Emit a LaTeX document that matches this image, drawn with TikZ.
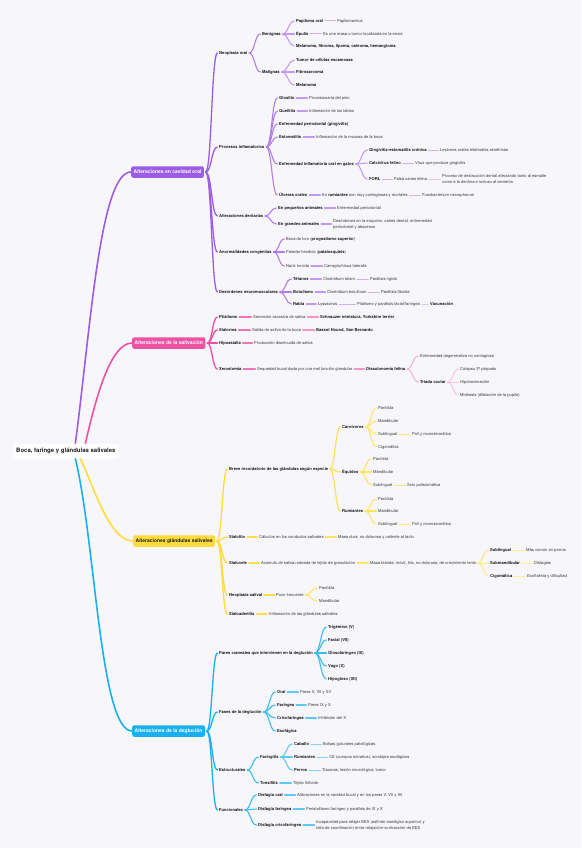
\documentclass[tikz,border=0pt]{standalone}
\usepackage{fontspec}
\setmainfont{TeX Gyre Heros}
\usetikzlibrary{calc}
\definecolor{bg}{HTML}{F7F7FB}
\definecolor{P}{HTML}{9C5CE6}
\definecolor{K}{HTML}{EE52A4}
\definecolor{Y}{HTML}{FFDC3C}
\definecolor{B}{HTML}{1AB0F0}
\definecolor{tx}{HTML}{1C1C1C}
\definecolor{tl}{HTML}{3A3A3A}
\tikzset{
 root/.style={anchor=west, fill=white, rounded corners=3pt, inner xsep=3pt, inner ysep=0pt, minimum height=15pt, font=\fontsize{6}{7}\selectfont\bfseries, text=tx},
 box/.style={anchor=west, rounded corners=2pt, inner xsep=2.5pt, inner ysep=0pt, minimum height=11.5pt, font=\fontsize{5}{6}\selectfont\bfseries},
 lb/.style={anchor=west, inner xsep=0pt, inner ysep=1pt, font=\fontsize{4.1}{5}\selectfont\bfseries, text=tx},
 lt/.style={anchor=west, inner xsep=0pt, inner ysep=1pt, font=\fontsize{4.1}{5}\selectfont, text=tl},
 lt2/.style={anchor=west, inner xsep=0pt, inner ysep=1pt, align=left, font=\fontsize{4.1}{6}\selectfont, text=tl},
 br/.style={to path={let \p1=(\tikztostart),\p2=(\tikztotarget),\n1={0.5*\x1+0.5*\x2} in .. controls (\n1,\y1) and (\n1,\y2) .. (\p2)}},
 ed/.style={line cap=round, shorten <=1.6pt, shorten >=1.6pt},
 P1/.style={line cap=round, line width=1.6pt, draw=P},
 P2/.style={ed, line width=1.3pt, draw=P},
 P3/.style={ed, line width=1.1pt, draw=P!80!white},
 P4/.style={ed, line width=1.05pt, draw=P!62!white},
 P5/.style={ed, line width=1pt, draw=P!48!white},
 P6/.style={ed, line width=1pt, draw=P!35!white},
 K1/.style={line cap=round, line width=1.6pt, draw=K},
 K2/.style={ed, line width=1.3pt, draw=K},
 K3/.style={ed, line width=1.1pt, draw=K!80!white},
 K4/.style={ed, line width=1.05pt, draw=K!62!white},
 K5/.style={ed, line width=1pt, draw=K!48!white},
 K6/.style={ed, line width=1pt, draw=K!35!white},
 Y1/.style={line cap=round, line width=1.6pt, draw=Y},
 Y2/.style={ed, line width=1.3pt, draw=Y},
 Y3/.style={ed, line width=1.1pt, draw=Y!90!white},
 Y4/.style={ed, line width=1.05pt, draw=Y!80!white},
 Y5/.style={ed, line width=1pt, draw=Y!68!white},
 Y6/.style={ed, line width=1pt, draw=Y!55!white},
 B1/.style={line cap=round, line width=1.6pt, draw=B},
 B2/.style={ed, line width=1.3pt, draw=B},
 B3/.style={ed, line width=1.1pt, draw=B!85!white},
 B4/.style={ed, line width=1.05pt, draw=B!70!white},
 B5/.style={ed, line width=1pt, draw=B!55!white},
}
\begin{document}
\begin{tikzpicture}[x=1pt,y=-1pt]
\fill[bg] (0,0) rectangle (581,848);
\useasboundingbox (0,0) rectangle (581,848);

% ---------- root and main boxes
\node[root] (root) at (13,451) {Boca, faringe y glándulas salivales};
\node[box, fill=P, text=white] (po) at (131,172) {Alteraciones en cavidad oral};
\node[box, fill=K, text=white] (ps) at (132,343) {Alteraciones de la salivación};
\node[box, fill=Y, text=tx] (ys) at (133,541) {Alteraciones glándulas salivales};
\node[box, fill=B, text=white] (bs) at (132,731) {Alteraciones de la deglución};

\draw[P1] ([xshift=9.5pt]root.north) .. controls +(15,-113) and +(-31,0) .. (po.west);
\draw[K1] ([xshift=19.5pt]root.north) .. controls +(10,-43) and +(-22,0) .. (ps.west);
\draw[Y1] ([xshift=14.5pt]root.south) .. controls +(15,32) and +(-23,0) .. (ys.west);
\draw[B1] ([xshift=9.5pt]root.south) .. controls +(20,82) and +(-32,0) .. (bs.west);

% ---------- purple: cavidad oral
\node[lb] (neo) at (219,53) {Neoplasia oral};
\node[lb] (pin) at (219,147) {Procesos inflamatorios};
\node[lb] (den) at (219,216) {Alteraciones dentarias};
\node[lb] (ano) at (219,252) {Anormalidades congénitas};
\node[lb] (neu) at (219,292) {Desórdenes neuromusculares};

\node[lb] (ben) at (262,34) {Benignas};
\node[lb] (mal) at (262,72) {Malignas};
\node[lb] (pap) at (296,21) {Papiloma oral};
\node[lt] (papv) at (337,21) {Papilomavirus};
\node[lb] (epu) at (296,34) {Épulis};
\node[lt] (epud) at (323,34) {Es una masa o tumor localizada en la encía};
\node[lb] (mel) at (296,46) {Melanoma, fibroma, lipoma, osteoma, hemangioma};
\node[lb] (tum) at (296,60) {Tumor de células escamosas};
\node[lb] (fib) at (296,72) {Fibrosarcoma};
\node[lb] (mela) at (296,85) {Melanoma};

\node[lb] (glo) at (279,98) {Glositis};
\node[lt] (glod) at (309,98) {Procesionaria del pino};
\node[lb] (que) at (279,111) {Queilitis};
\node[lt] (qued) at (309,111) {Inflamación de los labios};
\node[lb] (enf) at (279,124) {Enfermedad periodontal (gingivitis)};
\node[lb] (est) at (279,137) {Estomatitis};
\node[lt] (estd) at (316,137) {Inflamación de la mucosa de la boca};
\node[lb] (eio) at (279,164) {Enfermedad inflamatoria oral en gatos};
\node[lb] (gin) at (369,150) {Gingivitis-estomatitis crónica};
\node[lt] (gind) at (440,150) {Lesiones orales bilaterales simétricas};
\node[lb] (cal) at (369,163) {Calcivirus felino};
\node[lt] (cald) at (415,163) {Virus que produce gingivitis};
\node[lb] (forl) at (369,179) {FORL};
\node[lt] (fc) at (394,179) {Falsa caries felina};
\node[lt2] (fcd) at (442,179) {Proceso de destrucción dental afectando tanto al esmalte\\como a la dentina e incluso al cemento};
\node[lb] (ulc) at (279,195) {Úlceras orales};
\node[lt] (ulcd) at (322,195) {En \textbf{\color{tx}rumiantes} son muy contagiosas y mortales};
\node[lt] (fus) at (422,195) {Fusobacterium necrophorum};

\node[lb] (peq) at (278,208) {En pequeños animales};
\node[lt] (peqd) at (337,208) {Enfermedad periodontal};
\node[lb] (gra) at (278,224) {En grandes animales};
\node[lt2] (grad) at (333,224) {Desórdenes en la erupción, caries dental, enfermedad\\periodontal y abscesos};

\node[lt] (boc) at (286,239) {Boca de loro (\textbf{\color{tx}prognatismo superior})};
\node[lt] (pal) at (286,252) {Paladar hendido (\textbf{\color{tx}palatosquisis})};
\node[lt] (nar) at (286,266) {Nariz torcida};
\node[lt] (nard) at (324,266) {Campylorhinus lateralis};

\node[lb] (tet) at (293,279) {Tétanos};
\node[lt] (tetd) at (323,279) {Clostridium tetani};
\node[lt] (tetp) at (370,279) {Parálisis rígida};
\node[lb] (bot) at (293,292) {Botulismo};
\node[lt] (botd) at (327,292) {Clostridium botulinum};
\node[lt] (botp) at (381,292) {Parálisis flácida};
\node[lb] (rab) at (293,304) {Rabia};
\node[lt] (rabd) at (318,304) {Lyssavirus};
\node[lt] (rabp) at (357,304) {Ptialismo y parálisis facial/faríngea};
\node[lb] (vac) at (430,304) {Vacunación};

\foreach \b in {neo,pin,den,ano,neu} \draw[P2] (po.east) to[br] (\b.west);
\foreach \a/\b in {neo/ben,neo/mal,pin/glo,pin/que,pin/enf,pin/est,pin/eio,pin/ulc,den/peq,den/gra,ano/boc,ano/pal,ano/nar,neu/tet,neu/bot,neu/rab} \draw[P3] (\a.east) to[br] (\b.west);
\foreach \a/\b in {ben/pap,ben/epu,ben/mel,mal/tum,mal/fib,mal/mela,glo/glod,que/qued,est/estd,eio/gin,eio/cal,eio/forl,ulc/ulcd,peq/peqd,gra/grad,nar/nard,tet/tetd,bot/botd,rab/rabd} \draw[P4] (\a.east) to[br] (\b.west);
\foreach \a/\b in {pap/papv,epu/epud,gin/gind,cal/cald,forl/fc,ulcd/fus,tetd/tetp,botd/botp,rabd/rabp} \draw[P5] (\a.east) to[br] (\b.west);
\foreach \a/\b in {fc/fcd,rabp/vac} \draw[P6] (\a.east) to[br] (\b.west);

% ---------- pink: salivacion
\node[lb] (pti) at (219,317) {Ptialismo};
\node[lt] (ptid) at (253,317) {Secreción excesiva de saliva};
\node[lb] (ptir) at (320,317) {Schnauzer miniatura, Yorkshire terrier};
\node[lb] (sia) at (219,330) {Sialorrea};
\node[lt] (siad) at (252,330) {Salida de saliva de la boca};
\node[lb] (siar) at (316,330) {Basset Hound, San Bernardo};
\node[lb] (hip) at (219,343) {Hipoasialia};
\node[lt] (hipd) at (254,343) {Producción disminuida de saliva};
\node[lb] (xer) at (219,369) {Xerostomía};
\node[lt] (xerd) at (257,369) {Sequedad bucal dada por una mal función glandular};
\node[lb] (dis) at (366,369) {Disautonomía felina};
\node[lt] (enfd) at (420,356) {Enfermedad degenerativa no contagiosa};
\node[lb] (tri) at (420,382) {Tríada ocular};
\node[lt] (col) at (460,369) {Colapso 3º párpado};
\node[lt] (hipo) at (460,382) {Hipolacrimación};
\node[lt] (mid) at (460,395) {Midriasis (dilatación de la pupila)};

\foreach \b in {pti,sia,hip,xer} \draw[K2] (ps.east) to[br] (\b.west);
\foreach \a/\b in {pti/ptid,sia/siad,hip/hipd,xer/xerd} \draw[K3] (\a.east) to[br] (\b.west);
\foreach \a/\b in {ptid/ptir,siad/siar,xerd/dis} \draw[K4] (\a.east) to[br] (\b.west);
\foreach \a/\b in {dis/enfd,dis/tri} \draw[K5] (\a.east) to[br] (\b.west);
\foreach \a/\b in {tri/col,tri/hipo,tri/mid} \draw[K6] (\a.east) to[br] (\b.west);

% ---------- yellow: glandulas salivales
\node[lb] (bre) at (229,469) {Breve recordatorio de las glándulas según especie};
\node[lb] (car) at (342,427) {Carnívoros};
\node[lt] (cpa) at (378,408) {Parótida};
\node[lt] (cma) at (378,421) {Mandibular};
\node[lt] (csu) at (378,434) {Sublingual};
\node[lt] (csud) at (412,434) {Poli y monostomática};
\node[lt] (cci) at (378,447) {Cigomática};
\node[lb] (equ) at (342,472) {Équidos};
\node[lt] (epa) at (373,459) {Parótida};
\node[lt] (ema) at (373,472) {Mandibular};
\node[lt] (esu) at (373,485) {Sublingual};
\node[lt] (esud) at (407,485) {Solo polistomática};
\node[lb] (rum) at (342,511) {Rumiantes};
\node[lt] (rpa) at (378,499) {Parótida};
\node[lt] (rma) at (378,511) {Mandibular};
\node[lt] (rsu) at (378,524) {Sublingual};
\node[lt] (rsud) at (412,524) {Poli y monostomática};

\node[lb] (sil) at (229,537) {Sialolito};
\node[lt] (sild) at (259,537) {Cálculos en los conductos salivales};
\node[lt] (silm) at (338,537) {Masa dura, no dolorosa y caliente al tacto};
\node[lb] (sic) at (229,563) {Sialocele};
\node[lt] (sicd) at (261,563) {Acúmulo de saliva rodeada de tejido de granulación};
\node[lt] (sicm) at (370,563) {Masa blanda, móvil, fría, no dolorosa, de crecimiento lento};
\node[lb] (sub) at (490,550) {Sublingual};
\node[lt] (subd) at (526,550) {Más común en perros};
\node[lb] (smd) at (490,563) {Submandibular};
\node[lt] (smdd) at (534,563) {Disfagias};
\node[lb] (cig) at (490,576) {Cigomática};
\node[lt] (cigd) at (527,576) {Exoftalmia y dificultad};
\node[lb] (nsa) at (229,595) {Neoplasia salival};
\node[lt] (poc) at (276,595) {Poco frecuente};
\node[lt] (npa) at (319,588) {Parótida};
\node[lt] (nma) at (319,601) {Mandibular};
\node[lb] (sad) at (229,614) {Sialoadenitis};
\node[lt] (sadd) at (269,614) {Inflamación de las glándulas salivales};

\foreach \b in {bre,sil,sic,nsa,sad} \draw[Y2] (ys.east) to[br] (\b.west);
\foreach \a/\b in {bre/car,bre/equ,bre/rum,sil/sild,sic/sicd,nsa/poc,sad/sadd} \draw[Y3] (\a.east) to[br] (\b.west);
\foreach \a/\b in {car/cpa,car/cma,car/csu,car/cci,equ/epa,equ/ema,equ/esu,rum/rpa,rum/rma,rum/rsu,sild/silm,sicd/sicm,poc/npa,poc/nma} \draw[Y4] (\a.east) to[br] (\b.west);
\foreach \a/\b in {csu/csud,esu/esud,rsu/rsud,sicm/sub,sicm/smd,sicm/cig} \draw[Y5] (\a.east) to[br] (\b.west);
\foreach \a/\b in {sub/subd,smd/smdd,cig/cigd} \draw[Y6] (\a.east) to[br] (\b.west);

% ---------- blue: deglucion
\node[lb] (par) at (219,653) {Pares craneales que intervienen en la deglución};
\node[lb] (v1) at (328,627) {Trigémino (V)};
\node[lb] (v2) at (328,640) {Facial (VII)};
\node[lb] (v3) at (328,653) {Glosofaríngeo (IX)};
\node[lb] (v4) at (328,666) {Vago (X)};
\node[lb] (v5) at (328,679) {Hipogloso (XII)};

\node[lb] (fas) at (219,712) {Fases de la deglución};
\node[lb] (ora) at (277,692) {Oral};
\node[lt] (orad) at (300,692) {Pares V, VII y XII};
\node[lb] (far) at (277,705) {Faringea};
\node[lt] (fard) at (308,705) {Pares IX y X};
\node[lb] (cri) at (277,718) {Cricofaríngea};
\node[lt] (crid) at (318,718) {Inhibición del X};
\node[lb] (eso) at (277,731) {Esofágica};

\node[lb] (estr) at (219,770) {Estructurales};
\node[lb] (fari) at (260,757) {Faringitis};
\node[lb] (cab) at (294,744) {Caballo};
\node[lt] (cabd) at (323,744) {Bolsas guturales patológicas};
\node[lb] (rumi) at (294,757) {Rumiantes};
\node[lt] (rumid) at (329,757) {CE (cuerpos extraños), sondajes esofágicos};
\node[lb] (per) at (294,770) {Perros};
\node[lt] (perd) at (322,770) {Traumas, lesión neurológica, tumor};
\node[lb] (ton) at (260,783) {Tonsilitis};
\node[lt] (tond) at (293,783) {Tejido linfoide};

\node[lb] (fun) at (219,810) {Funcionales};
\node[lb] (dor) at (258,795) {Disfagia oral};
\node[lt] (dord) at (297,795) {Alteraciones en la cavidad bucal y en los pares V, VII y XII};
\node[lb] (dfa) at (258,809) {Disfagia faríngea};
\node[lt] (dfad) at (306,809) {Peristaltismo faríngeo y parálisis de IX y X};
\node[lb] (dcr) at (258,825) {Disfagia cricofaríngea};
\node[lt2] (dcrd) at (316,825) {Incapacidad para relajar EES (esfínter esofágico superior) y\\falta de coordinación entre relajación-contracción de EES};

\foreach \b in {par,fas,estr,fun} \draw[B2] (bs.east) to[br] (\b.west);
\foreach \a/\b in {par/v1,par/v2,par/v3,par/v4,par/v5,fas/ora,fas/far,fas/cri,fas/eso,estr/fari,estr/ton,fun/dor,fun/dfa,fun/dcr} \draw[B3] (\a.east) to[br] (\b.west);
\foreach \a/\b in {ora/orad,far/fard,cri/crid,fari/cab,fari/rumi,fari/per,ton/tond,dor/dord,dfa/dfad,dcr/dcrd} \draw[B4] (\a.east) to[br] (\b.west);
\foreach \a/\b in {cab/cabd,rumi/rumid,per/perd} \draw[B5] (\a.east) to[br] (\b.west);
\end{tikzpicture}
\end{document}
